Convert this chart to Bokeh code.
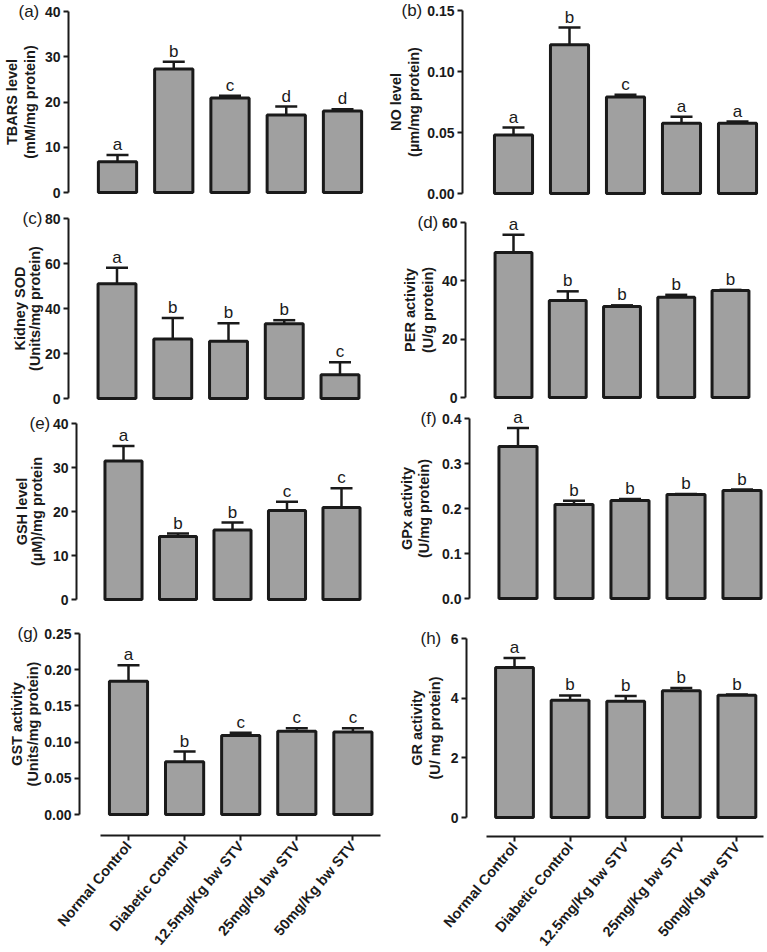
import math
from bokeh.plotting import figure
from bokeh.models import (Range1d, FixedTicker, ColumnDataSource, Whisker, TeeHead,
                          LabelSet, Label, PrintfTickFormatter)
from bokeh.layouts import row, column
from bokeh.core.properties import value
from bokeh.embed import file_html
from bokeh.resources import INLINE

# ---------------- data ----------------
categories = ["Normal Control", "Diabetic Control", "12.5mg/Kg bw STV",
              "25mg/Kg bw STV", "50mg/Kg bw STV"]

tbars_mean = [6.8, 27.3, 20.9, 17.1, 18.0]
tbars_err = [1.5, 1.6, 0.5, 1.9, 0.4]
tbars_letters = ["a", "b", "c", "d", "d"]
tbars_ticks = [0, 10, 20, 30, 40]

no_mean = [0.048, 0.122, 0.079, 0.0575, 0.0575]
no_err = [0.006, 0.014, 0.002, 0.0055, 0.0015]
no_letters = ["a", "b", "c", "a", "a"]
no_ticks = [0, 0.05, 0.10, 0.15]

sod_mean = [51.0, 26.5, 25.4, 33.2, 10.6]
sod_err = [7.1, 9.3, 8.0, 1.6, 5.5]
sod_letters = ["a", "b", "b", "b", "c"]
sod_ticks = [0, 20, 40, 60, 80]

per_mean = [49.7, 33.3, 31.2, 34.4, 36.7]
per_err = [6.1, 3.1, 0.4, 0.8, 0.2]
per_letters = ["a", "b", "b", "b", "b"]
per_ticks = [0, 20, 40, 60]

gsh_mean = [31.5, 14.3, 15.8, 20.2, 20.9]
gsh_err = [3.4, 0.7, 1.7, 2.0, 4.4]
gsh_letters = ["a", "b", "b", "c", "c"]
gsh_ticks = [0, 10, 20, 30, 40]

gpx_mean = [0.338, 0.209, 0.218, 0.231, 0.240]
gpx_err = [0.041, 0.008, 0.003, 0.001, 0.002]
gpx_letters = ["a", "b", "b", "b", "b"]
gpx_ticks = [0, 0.1, 0.2, 0.3, 0.4]

gst_mean = [0.184, 0.073, 0.109, 0.115, 0.114]
gst_err = [0.022, 0.014, 0.004, 0.004, 0.005]
gst_letters = ["a", "b", "c", "c", "c"]
gst_ticks = [0, 0.05, 0.10, 0.15, 0.20, 0.25]

gr_mean = [5.03, 3.93, 3.90, 4.25, 4.10]
gr_err = [0.32, 0.16, 0.17, 0.09, 0.02]
gr_letters = ["a", "b", "b", "b", "b"]
gr_ticks = [0, 2, 4, 6]

# ---------------- style ----------------
FONT = "Liberation Sans"
INK = "#1a1a1a"
BAR_FILL = "#a0a0a0"

# ---------------- layout (page pixels) ----------------
COL_LEFT = (0, 383)
COL_RIGHT = (383, 384)
ROWS = [(0, 205), (205, 203), (408, 207), (615, 336)]

# anchors: axis x, first bar centre, bar pitch, top-tick y, zero y,
# tag left x, label line centres, optional bottom axis (y, x0, x1)
GA = dict(A=68, c0=117, s=56.25, top=11, zero=192, tag=18, l1=11, l2=29)
GB = dict(A=462, c0=513, s=56, top=10, zero=193, tag=401, l1=395, l2=413)
GC = dict(A=68, c0=116.5, s=55.75, top=218, zero=398, tag=22, l1=19, l2=34)
GD = dict(A=465, c0=513, s=54.25, top=222, zero=397, tag=417, l1=409, l2=427)
GE = dict(A=76, c0=123, s=54.5, top=423, zero=599, tag=29, l1=21, l2=36)
GF = dict(A=469, c0=517.5, s=56, top=418, zero=598, tag=420, l1=406, l2=423)
GG = dict(A=79, c0=128, s=56.1, top=633, zero=814, tag=17, l1=16, l2=32,
          xaxis=(835, 100, 380))
GH = dict(A=466, c0=514, s=55.6, top=638, zero=817, tag=420, l1=416, l2=434,
          xaxis=(836, 486, 763))


def style_axis(a, size):
    a.major_label_text_font = FONT
    a.major_label_text_font_style = "bold"
    a.major_label_text_font_size = size
    a.major_label_text_color = INK
    a.major_label_standoff = 3
    a.major_tick_out = 5
    a.major_tick_in = 0
    a.minor_tick_out = 0
    a.minor_tick_in = 0
    a.axis_line_width = 2
    a.axis_line_color = INK
    a.major_tick_line_width = 2
    a.major_tick_line_color = INK


def make_panel(mean, err, letters, ticks, fmt, ylabel, tag, col, rw, G):
    FL, W = col
    FT, H = rw
    top_val = ticks[-1]
    Zw, Tw = G["zero"], G["top"]
    k = (Zw - Tw) / top_val
    y_start = -(FT + H - Zw) / k
    y_end = top_val + (Tw - FT) / k
    s_w = G["s"]
    c0w = G["c0"]
    x_start = -(c0w - FL) / s_w
    x_end = x_start + W / s_w
    Aw = G["A"]
    ax_x = (Aw - c0w) / s_w

    xs = list(range(len(categories)))
    upper = [m + e for m, e in zip(mean, err)]
    src = ColumnDataSource(dict(x=xs, top=mean, upper=upper, letter=letters))

    has_x = "xaxis" in G
    p = figure(width=W, height=H, x_range=Range1d(x_start, x_end),
               y_range=Range1d(y_start, y_end),
               x_axis_location="below" if has_x else None,
               output_backend="svg", toolbar_location=None, title=None,
               min_border_left=0, min_border_right=0,
               min_border_top=0, min_border_bottom=0)
    p.outline_line_color = None
    p.xgrid.visible = False
    p.ygrid.visible = False

    p.vbar(x="x", top="top", bottom=0, width=0.68, source=src,
           fill_color=BAR_FILL, line_color=INK, line_width=3)
    p.add_layout(Whisker(source=src, base="x", upper="upper", lower="top",
                         dimension="height", line_color=INK, line_width=2.5,
                         lower_head=None,
                         upper_head=TeeHead(size=22, line_color=INK, line_width=2.5)))
    p.add_layout(LabelSet(x="x", y="upper", text="letter", source=src,
                          text_align="center", text_baseline="bottom", y_offset=1,
                          text_font=value(FONT), text_font_size="17px",
                          text_color=INK))

    ax = p.yaxis[0]
    ax.fixed_location = ax_x
    ax.bounds = (0, top_val)
    ax.ticker = FixedTicker(ticks=ticks)
    ax.formatter = PrintfTickFormatter(format=fmt)
    style_axis(ax, "14px")

    if has_x:
        ly, lx0, lx1 = G["xaxis"]
        xa = p.xaxis[0]
        xa.fixed_location = -(ly - Zw) / k
        xa.bounds = ((lx0 - c0w) / s_w, (lx1 - c0w) / s_w)
        xa.ticker = FixedTicker(ticks=xs)
        xa.major_label_overrides = {i: c for i, c in enumerate(categories)}
        xa.major_label_orientation = 0.87
        style_axis(xa, "14.5px")

    # y-axis title (two rotated lines) centred on the axis span
    line1, line2 = ylabel
    for txt, lx in ((line1, G["l1"]), (line2, G["l2"])):
        p.add_layout(Label(x=ax_x, y=top_val / 2, x_offset=lx - Aw,
                           text=txt, angle=math.pi / 2, text_align="center",
                           text_baseline="middle", text_font=FONT,
                           text_font_style="bold", text_font_size="14.5px",
                           text_color=INK))
    # panel tag, level with the top tick
    p.add_layout(Label(x=ax_x, y=top_val, x_offset=G["tag"] - Aw, text=tag,
                       text_align="left", text_baseline="middle", text_font=FONT,
                       text_font_size="17px", text_color=INK))
    return p


pa = make_panel(tbars_mean, tbars_err, tbars_letters, tbars_ticks, "%d",
                ("TBARS level", "(mM/mg protein)"), "(a)", COL_LEFT, ROWS[0], GA)
pb = make_panel(no_mean, no_err, no_letters, no_ticks, "%.2f",
                ("NO level", "(µm/mg protein)"), "(b)", COL_RIGHT, ROWS[0], GB)
pc = make_panel(sod_mean, sod_err, sod_letters, sod_ticks, "%d",
                ("Kidney SOD", "(Units/mg protein)"), "(c)", COL_LEFT, ROWS[1], GC)
pd_ = make_panel(per_mean, per_err, per_letters, per_ticks, "%d",
                 ("PER activity", "(U/g protein)"), "(d)", COL_RIGHT, ROWS[1], GD)
pe = make_panel(gsh_mean, gsh_err, gsh_letters, gsh_ticks, "%d",
                ("GSH level", "(µM)/mg protein"), "(e)", COL_LEFT, ROWS[2], GE)
pf = make_panel(gpx_mean, gpx_err, gpx_letters, gpx_ticks, "%.1f",
                ("GPx activity", "(U/mg protein)"), "(f)", COL_RIGHT, ROWS[2], GF)
pg = make_panel(gst_mean, gst_err, gst_letters, gst_ticks, "%.2f",
                ("GST activity", "(Units/mg protein)"), "(g)", COL_LEFT, ROWS[3], GG)
ph = make_panel(gr_mean, gr_err, gr_letters, gr_ticks, "%d",
                ("GR activity", "(U/ mg protein)"), "(h)", COL_RIGHT, ROWS[3], GH)

left_col = column(pa, pc, pe, pg, spacing=0)
right_col = column(pb, pd_, pf, ph, spacing=0)
layout = row(left_col, right_col, spacing=0)

open("out.html", "w").write(file_html(layout, INLINE))
